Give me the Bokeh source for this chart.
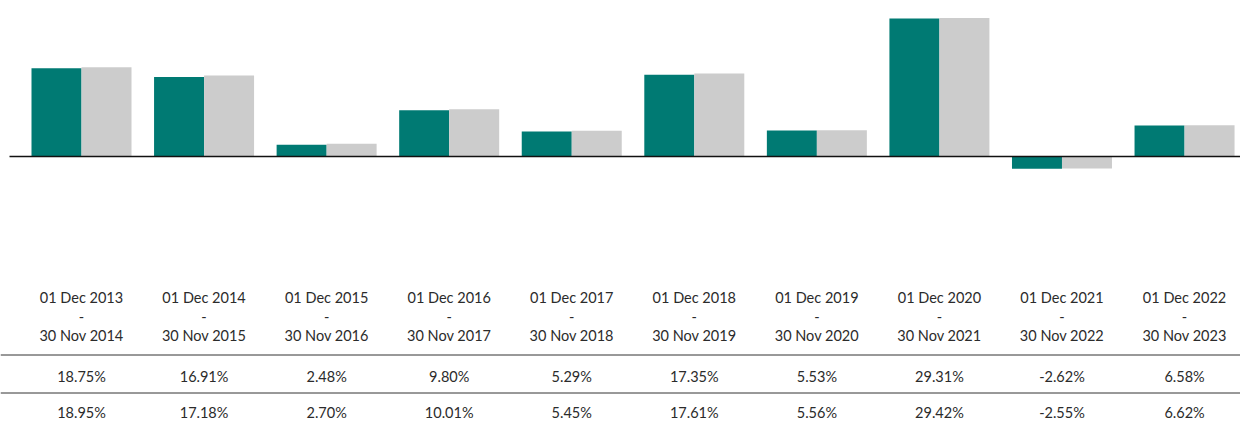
from bokeh.plotting import figure
from bokeh.models import Range1d, ColumnDataSource
from bokeh.core.properties import value
from bokeh.embed import file_html
from bokeh.resources import INLINE

# ---- data ----
period_start = ["01 Dec 2013", "01 Dec 2014", "01 Dec 2015", "01 Dec 2016", "01 Dec 2017",
                "01 Dec 2018", "01 Dec 2019", "01 Dec 2020", "01 Dec 2021", "01 Dec 2022"]
period_end = ["30 Nov 2014", "30 Nov 2015", "30 Nov 2016", "30 Nov 2017", "30 Nov 2018",
              "30 Nov 2019", "30 Nov 2020", "30 Nov 2021", "30 Nov 2022", "30 Nov 2023"]
fund = [18.75, 16.91, 2.48, 9.80, 5.29, 17.35, 5.53, 29.31, -2.62, 6.58]
benchmark = [18.95, 17.18, 2.70, 10.01, 5.45, 17.61, 5.56, 29.42, -2.55, 6.62]

# ---- layout constants ----
W, H = 1240, 424
PX_PER_CAT = 122.56
FIRST_CENTER_PX = 81.0      # within frame
ZERO_PX = 156.0             # within frame, from top
PX_PER_UNIT = 4.708
BAR_W = 50.0 / PX_PER_CAT

x_start = -FIRST_CENTER_PX / PX_PER_CAT
x_end = x_start + W / PX_PER_CAT
y_top = ZERO_PX / PX_PER_UNIT
y_bot = -(H - ZERO_PX) / PX_PER_UNIT


def ypx(px):
    """frame pixel (from top) -> data y"""
    return (ZERO_PX - px) / PX_PER_UNIT


def xpx(px):
    return x_start + px / PX_PER_CAT


TEAL = "#007a73"
GREY = "#cccccc"
TXT = "#2b2b2b"
FONT = value("Lato")

n = len(fund)
xs = list(range(n))
src = ColumnDataSource(dict(
    x=xs,
    xl=[i - BAR_W / 2 for i in xs],
    xr=[i + BAR_W / 2 for i in xs],
    fund=fund, bench=benchmark,
    start=period_start, end=period_end, dash=["-"] * n,
    f_lab=[f"{v:.2f}%" for v in fund],
    b_lab=[f"{v:.2f}%" for v in benchmark],
))

p = figure(width=W, height=H, output_backend="svg", toolbar_location=None,
           x_range=Range1d(x_start, x_end), y_range=Range1d(y_bot, y_top),
           min_border=0, outline_line_color=None)
p.axis.visible = False
p.grid.visible = False
p.background_fill_color = "white"

p.vbar(x="xl", top="fund", bottom=0, width=BAR_W, source=src,
       fill_color=TEAL, line_color=None)
p.vbar(x="xr", top="bench", bottom=0, width=BAR_W, source=src,
       fill_color=GREY, line_color=None)

# zero line and table rules
p.segment(x0=xpx(9), x1=x_end, y0=0, y1=0, line_color="#111111", line_width=1.5)
for ry in (354.5, 392.5):
    p.segment(x0=x_start, x1=x_end, y0=ypx(ry), y1=ypx(ry), line_color="#333333", line_width=1)

common = dict(source=src, text_align="center", text_baseline="middle",
              text_font=FONT, text_font_size="14.5px", text_color=TXT)
p.text(x="x", y=ypx(297), text="start", **common)
p.text(x="x", y=ypx(315.5), text="dash", **common)
p.text(x="x", y=ypx(335), text="end", **common)
p.text(x="x", y=ypx(376), text="f_lab", **common)
p.text(x="x", y=ypx(412), text="b_lab", **common)

open("out.html", "w").write(file_html(p, INLINE))
